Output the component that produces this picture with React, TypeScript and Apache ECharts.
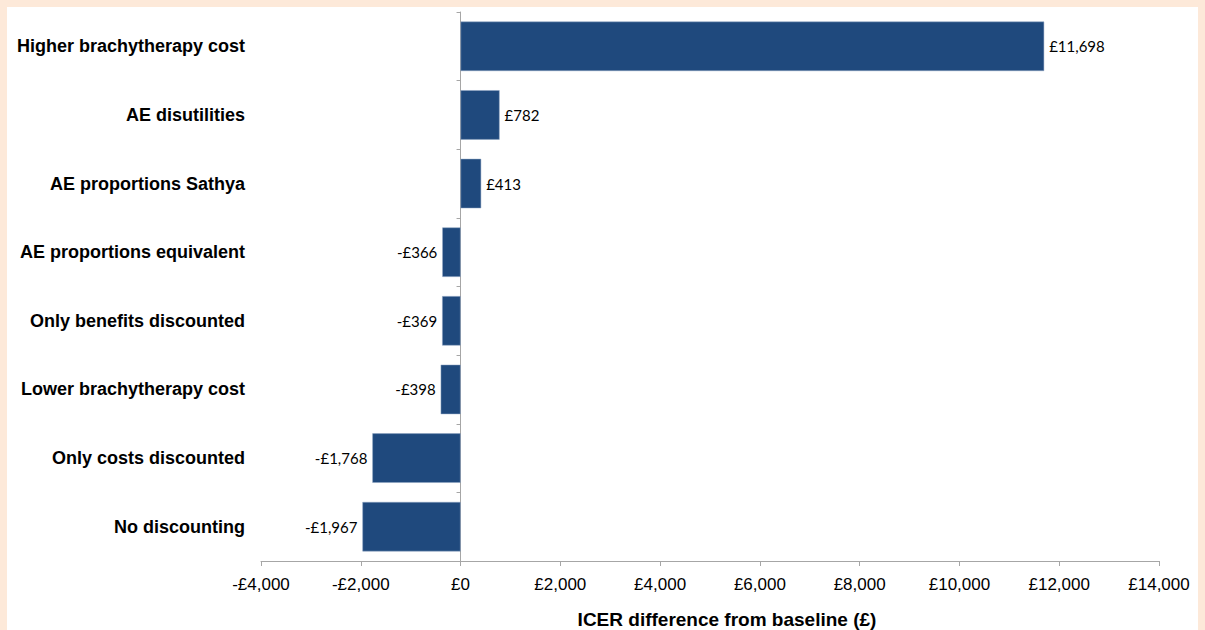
import React, { useEffect, useRef } from "react";
import * as echarts from "echarts";

const categories = [
  "Higher brachytherapy cost",
  "AE disutilities",
  "AE proportions Sathya",
  "AE proportions equivalent",
  "Only benefits discounted",
  "Lower brachytherapy cost",
  "Only costs discounted",
  "No discounting",
];
const values = [11698, 782, 413, -366, -369, -398, -1768, -1967];
const axisTitle = "ICER difference from baseline (£)";

const fmtMoney = (v: number) => {
  const s = Math.abs(v).toLocaleString("en-GB");
  return (v < 0 ? "-£" : "£") + s;
};

export default function App() {
  const ref = useRef<HTMLDivElement>(null);
  useEffect(() => {
    document.body.style.margin = "0";
    const chart = echarts.init(ref.current!, null, { renderer: "svg" });
    chart.setOption({
      animation: false,
      backgroundColor: "#fde9d9",
      graphic: [
        {
          type: "rect",
          z: -10,
          silent: true,
          shape: { x: 7, y: 7, width: 1191, height: 630 },
          style: { fill: "#ffffff" },
        },
      ],
      grid: {
        left: 261,
        right: 46,
        top: 12,
        bottom: 69,
        containLabel: false,
        outerBoundsMode: "none",
      },
      xAxis: {
        type: "value",
        min: -4000,
        max: 14000,
        interval: 2000,
        splitLine: { show: false },
        axisLine: { show: true, lineStyle: { color: "#a6a6a6", width: 1 } },
        axisTick: { show: true, length: 5, lineStyle: { color: "#a6a6a6" } },
        axisLabel: {
          margin: 15,
          fontFamily: "Liberation Sans, Arial, sans-serif",
          fontSize: 17,
          color: "#000",
          hideOverlap: false,
          formatter: (v: number) => fmtMoney(v),
        },
        name: axisTitle,
        nameLocation: "middle",
        nameGap: 49,
        nameTextStyle: {
          fontFamily: "Liberation Sans, Arial, sans-serif",
          fontSize: 19,
          fontWeight: "bold",
          color: "#000",
          padding: [0, 0, 0, 34],
        },
      },
      yAxis: {
        type: "category",
        inverse: true,
        data: categories,
        axisLine: { show: true, onZero: true, lineStyle: { color: "#a6a6a6", width: 1 } },
        axisTick: { show: true, length: 4, lineStyle: { color: "#a6a6a6" } },
        axisLabel: {
          margin: 16,
          fontFamily: "Liberation Sans, Arial, sans-serif",
          fontSize: 18,
          fontWeight: "bold",
          color: "#000",
        },
      },
      series: [
        {
          type: "bar",
          barCategoryGap: "28%",
          itemStyle: { color: "#1f497d", borderColor: "#8ea4c2", borderWidth: 0.5 },
          data: values.map((v) => ({
            value: v,
            label: { position: v >= 0 ? "right" : "left" },
          })),
          label: {
            show: true,
            distance: 5,
            fontFamily: "Lato, Open Sans, sans-serif",
            fontSize: 15,
            color: "#000",
            formatter: (p: any) => fmtMoney(p.value),
          },
        },
      ],
    });
    return () => chart.dispose();
  }, []);
  return <div ref={ref} style={{ width: 1205, height: 630 }} />;
}
